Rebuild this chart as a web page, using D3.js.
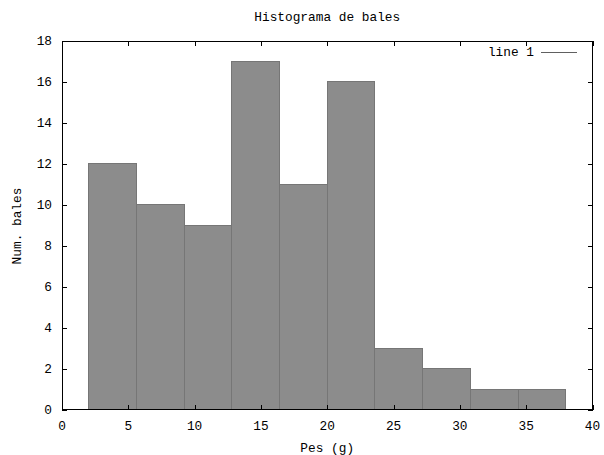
<!DOCTYPE html>
<html>
<head>
<meta charset="utf-8">
<script src="https://cdn.jsdelivr.net/npm/d3@7"></script>
<style>
  body { margin: 0; background: #fff; }
  text { font-family: "Liberation Mono", monospace; font-size: 12.8px; fill: #000; }
  line, rect { shape-rendering: crispEdges; }
</style>
</head>
<body>
<svg id="chart" width="604" height="455"></svg>
<script>
// histogram bins (g) and counts
const binStarts = [2.0, 5.6, 9.2, 12.8, 16.4, 20.0, 23.6, 27.2, 30.8, 34.4];
const binWidth = 3.6;
const counts = [12, 10, 9, 17, 11, 16, 3, 2, 1, 1];
const xTicks = [0, 5, 10, 15, 20, 25, 30, 35, 40];
const yTicks = [0, 2, 4, 6, 8, 10, 12, 14, 16, 18];

const svg = d3.select("#chart");
const plotL = 62, plotR = 592.5, plotT = 41, plotB = 409.5;
const tickLen = 4.5;

const x = d3.scaleLinear().domain([0, 40]).range([plotL, plotR]);
const y = d3.scaleLinear().domain([0, 18]).range([plotB, plotT]);

// bars
svg.selectAll("rect.bar")
  .data(binStarts)
  .join("rect")
  .attr("class", "bar")
  .attr("x", d => x(d))
  .attr("y", (d, i) => y(counts[i]))
  .attr("width", d => x(d + binWidth) - x(d))
  .attr("height", (d, i) => y(0) - y(counts[i]))
  .attr("fill", "#8c8c8c")
  .attr("stroke", "#767676")
  .attr("stroke-width", 1);

// axes, ticks drawn inward like gnuplot with mirrors
const axisStyle = g => g.call(s => s.select(".domain").remove())
  .call(s => s.selectAll("line").attr("stroke", "#000"));

svg.append("g").attr("transform", `translate(0,${plotB})`)
  .call(d3.axisTop(x).tickValues(xTicks).tickSize(tickLen).tickFormat(""))
  .call(axisStyle);
svg.append("g").attr("transform", `translate(0,${plotT})`)
  .call(d3.axisBottom(x).tickValues(xTicks).tickSize(tickLen).tickFormat(""))
  .call(axisStyle);
svg.append("g").attr("transform", `translate(${plotL},0)`)
  .call(d3.axisRight(y).tickValues(yTicks).tickSize(tickLen).tickFormat(""))
  .call(axisStyle);
svg.append("g").attr("transform", `translate(${plotR},0)`)
  .call(d3.axisLeft(y).tickValues(yTicks).tickSize(tickLen).tickFormat(""))
  .call(axisStyle);

// tick labels
svg.selectAll("text.xt")
  .data(xTicks)
  .join("text")
  .attr("class", "xt")
  .attr("x", d => x(d))
  .attr("y", 430)
  .attr("text-anchor", "middle")
  .text(d => d);

svg.selectAll("text.yt")
  .data(yTicks)
  .join("text")
  .attr("class", "yt")
  .attr("x", 52)
  .attr("y", d => y(d))
  .attr("dy", "0.35em")
  .attr("text-anchor", "end")
  .text(d => d);

// border
svg.append("rect")
  .attr("x", plotL).attr("y", plotT)
  .attr("width", plotR - plotL).attr("height", plotB - plotT)
  .attr("fill", "none").attr("stroke", "#000").attr("stroke-width", 1);

// title and labels
const cx = (plotL + plotR) / 2;
svg.append("text").attr("x", cx).attr("y", 21).attr("text-anchor", "middle")
  .text("Histograma de bales");
svg.append("text").attr("x", cx).attr("y", 452).attr("text-anchor", "middle")
  .text("Pes (g)");
svg.append("text")
  .attr("transform", `translate(21,226) rotate(-90)`)
  .attr("text-anchor", "middle")
  .text("Num. bales");

// legend
svg.append("text").attr("x", 534).attr("y", 56).attr("text-anchor", "end")
  .text("line 1");
svg.append("line")
  .attr("x1", 541).attr("x2", 577).attr("y1", 52).attr("y2", 52)
  .attr("stroke", "#606060").attr("stroke-width", 1);
</script>
</body>
</html>
